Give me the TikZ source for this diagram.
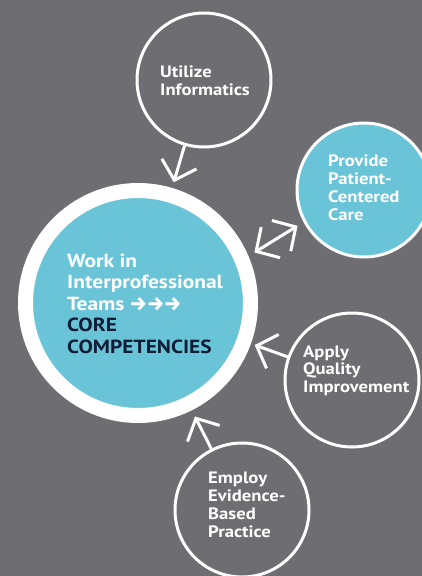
\documentclass[tikz,border=0pt]{standalone}
\usepackage{fontspec}
\setmainfont{PT Sans}[BoldFont={PT Sans Bold}, BoldFeatures={FakeStretch=1.13}]
\newfontfamily\arrowfont{Fira Sans SemiBold}
\usetikzlibrary{arrows.meta}
\definecolor{bggray}{HTML}{6E6D72}
\definecolor{tealfill}{HTML}{6AC4D7}
\definecolor{navy}{HTML}{0F1E36}
\tikzset{
  bubble/.style={circle, draw=white, line width=3pt, minimum size=134pt, inner sep=0pt},
  label/.style={anchor=base west, inner sep=0pt, text=white, align=left},
  arr/.style={draw=white, line width=3pt, -{Straight Barb[length=17pt,width=36pt,line width=3pt]}},
  darr/.style={draw=white, line width=3pt, {Straight Barb[length=17pt,width=36pt,line width=3pt]}-{Straight Barb[length=17pt,width=36pt,line width=3pt]}}
}
\begin{document}
\begin{tikzpicture}[x=1pt,y=-1pt]
\fill[bggray] (0,0) rectangle (422,576);
\useasboundingbox (0,0) rectangle (422,576);
\node[circle, fill=tealfill, draw=white, line width=15pt, minimum size=225pt, inner sep=0pt] (main) at (138,303) {};
\node[bubble] (util) at (204,80) {};
\node[bubble, fill=tealfill] (prov) at (364,190) {};
\node[bubble] (apply) at (352,380) {};
\node[bubble] (employ) at (242,510) {};
\draw[arr, shorten >=6pt] (util) -- (main);
\draw[darr, shorten >=7pt, shorten <=7pt] (main.23.5) -- (prov.208);
\draw[arr, shorten >=4pt] (apply) -- (main);
\draw[arr, shorten >=7pt] (employ) -- (main);
\node[label, font=\bfseries\fontsize{19}{21.5}\selectfont] (maintext) at (67,353)
  {Work in\\Interprofessional\\Teams {\arrowfont\fontsize{19}{21.5}\selectfont →→→}\\\textcolor{navy}{CORE}\\\textcolor{navy}{COMPETENCIES}};
\node[label, font=\bfseries\fontsize{16.5}{18}\selectfont] (utiltext) at (160,95) {Utilize\\Informatics};
\node[label, font=\bfseries\fontsize{16.5}{17.7}\selectfont] (provtext) at (328,220) {Provide\\Patient-\\Centered\\Care};
\node[label, font=\bfseries\fontsize{16.5}{17.5}\selectfont] (applytext) at (303,392) {Apply\\Quality\\Improvement};
\node[label, font=\bfseries\fontsize{16.5}{18}\selectfont] (employtext) at (208,537) {Employ\\Evidence-\\Based\\Practice};
\end{tikzpicture}
\end{document}
